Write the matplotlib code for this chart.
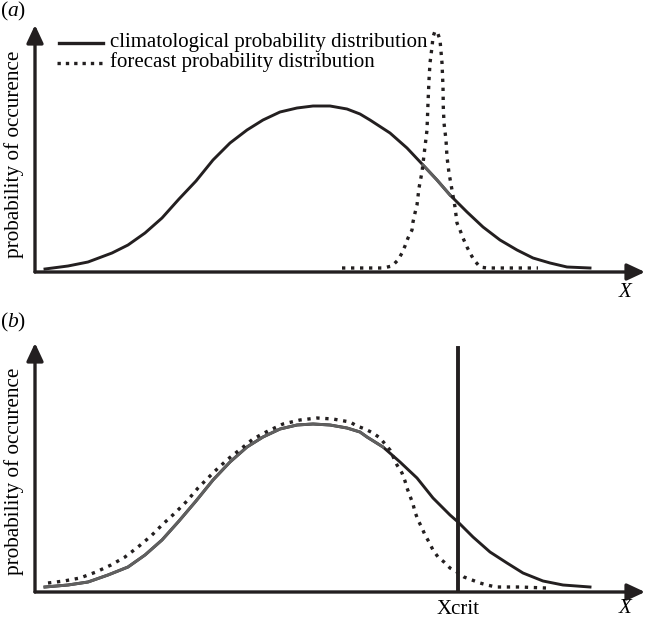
import matplotlib
matplotlib.use("Agg")
import matplotlib.pyplot as plt
import numpy as np

plt.rcParams['font.family'] = ['Liberation Serif', 'DejaVu Serif']
plt.rcParams['mathtext.fontset'] = 'custom'
plt.rcParams['mathtext.rm'] = 'Liberation Serif'
plt.rcParams['mathtext.it'] = 'Liberation Serif:italic'

# ---- data (x along X axis, y = probability, arbitrary units) ----
clim_a_x = [10, 33, 53, 77, 93, 110, 127, 144, 161, 178, 195, 212, 228, 245, 262, 278, 295,
            312, 325, 335, 355, 372, 388, 402, 415, 432, 448, 465, 482, 498, 515, 532, 555]
clim_a_y = [3, 6, 10, 19, 27, 39, 54, 73, 91, 112, 129, 142, 152, 160, 164, 166, 166,
            163, 158, 152, 139, 124, 107, 92, 77, 60, 45, 32, 22, 14, 9, 5, 4]

fc_a_x = [307, 348, 357, 363, 367, 370, 373, 377, 378, 380, 382, 384, 387, 389, 392, 393,
          394, 395, 397, 398, 400, 403, 405, 407, 408, 408.3, 409, 411, 412, 414, 417, 420,
          422, 425, 428, 432, 435, 439, 445, 452, 503]
fc_a_y = [4, 4, 6, 12, 19, 26, 34, 42, 50, 59, 67, 84, 100, 117, 142, 169,
          192, 209, 225, 235, 241, 238, 232, 209, 185, 165, 149, 132, 115, 99, 82, 65,
          49, 42, 34, 25, 19, 12, 5, 4, 4]

clim_b_x = [10, 33, 53, 73, 93, 110, 127, 144, 161, 178, 195, 212, 228, 245, 262, 278, 295,
            312, 325, 332, 348, 365, 382, 398, 415, 423, 438, 455, 472, 488, 508, 528, 555]
clim_b_y = [5, 7, 10, 17, 25, 37, 52, 71, 91, 112, 130, 145, 155, 163, 167, 168, 167,
            164, 160, 155, 145, 130, 114, 94, 77, 70, 55, 40, 29, 19, 11, 7, 5]

fc_b_x = [13, 29, 45, 61, 76, 90, 103, 116, 128, 140, 152, 163, 168, 180, 193, 207, 218,
          233, 248, 265, 282, 298, 315, 322, 330, 338, 345, 355, 362, 367, 370, 372, 375,
          378, 380, 383, 387, 390, 394, 398, 403, 409, 415, 422, 429, 437, 445, 452, 461,
          469, 485, 511]
fc_b_y = [9, 11, 14, 20, 27, 35, 45, 56, 68, 79, 91, 104, 109, 121, 133, 144, 153,
          161, 168, 172, 174, 173, 170, 166, 163, 159, 154, 142, 127, 119, 111, 104, 96,
          88, 80, 72, 64, 57, 50, 42, 35, 30, 24, 20, 15, 12, 9, 7, 5,
          5, 5, 4]

x_crit = 423
x_crit_top = 244

legend_labels = ["climatological probability distribution", "forecast probability distribution"]
ylabel = "probability of occurence"

DARK = '#231f20'
GRAY = '#606060'
DOT = (0, (1, 1.7))
LW_CURVE = 2.1
LW_DOT = 2.4
FS = 15

fig = plt.figure(figsize=(6.47, 6.18), dpi=100)
W, H = 647, 618

def make_axes(bottom_px, top_px, ylab_y, xlab_y):
    ax = fig.add_axes([35 / W, (H - bottom_px) / H, 610 / W, (bottom_px - top_px) / H])
    ax.set_xlim(0, 610)
    ax.set_ylim(0, bottom_px - top_px)
    for s in ax.spines.values():
        s.set_visible(False)
    ax.set_xticks([])
    ax.set_yticks([])
    ax.patch.set_alpha(0)
    ap = dict(arrowstyle='-|>,head_length=0.9,head_width=0.42', lw=2.4, color=DARK,
              mutation_scale=12, shrinkA=0, shrinkB=0)
    ax.annotate('', xy=(1, 0), xytext=(0, 0), xycoords='axes fraction',
                arrowprops=ap, annotation_clip=False)
    ax.annotate('', xy=(0, 1), xytext=(0, 0), xycoords='axes fraction',
                arrowprops=ap, annotation_clip=False)
    ax.text(-0.034, ylab_y, ylabel, transform=ax.transAxes, rotation=90,
            ha='center', va='center', fontsize=15.3)
    ax.text(0.967, xlab_y, 'X', transform=ax.transAxes, ha='center', va='center',
            fontsize=FS, fontstyle='italic')
    return ax

# ---- panel (a) ----
axa = make_axes(272, 25, 0.478, -0.085)
axa.plot(clim_a_x, clim_a_y, color=DARK, lw=LW_CURVE)
cx = np.array(clim_a_x); cy = np.array(clim_a_y)
m = (cx >= 388) & (cx <= 415)
axa.plot(cx[m], cy[m], color=GRAY, lw=LW_CURVE)
axa.plot(fc_a_x, fc_a_y, color=DARK, lw=LW_DOT, linestyle=DOT)

# legend (drawn by hand, in axes coordinates)
axa.plot([0.039, 0.111], [0.928, 0.928], transform=axa.transAxes, color=DARK, lw=2.4,
         clip_on=False)
axa.plot([0.036, 0.110], [0.848, 0.848], transform=axa.transAxes, color=DARK, lw=LW_DOT,
         linestyle=(0, (1, 1.5)), clip_on=False)
axa.text(0.123, 0.930, legend_labels[0], transform=axa.transAxes, ha='left', va='center',
         fontsize=FS)
axa.text(0.123, 0.850, legend_labels[1], transform=axa.transAxes, ha='left', va='center',
         fontsize=FS)
fig.text(0 / W, 1 - 11 / H, r'($a$)', ha='left', va='center', fontsize=15.5)

# ---- panel (b) ----
axb = make_axes(592, 343, 0.486, -0.066)
bx = np.array(clim_b_x); by = np.array(clim_b_y)
axb.plot(bx, by, color=DARK, lw=LW_CURVE)
mb = bx <= 355
axb.plot(bx[mb], by[mb], color=GRAY, lw=LW_CURVE)
axb.plot(fc_b_x, fc_b_y, color=DARK, lw=LW_DOT, linestyle=DOT)
axb.plot([x_crit, x_crit], [0, x_crit_top], color=DARK, lw=2.8)
axb.text(x_crit, -17, 'Xcrit', ha='center', va='center', fontsize=FS)
fig.text(0 / W, 1 - 322 / H, r'($b$)', ha='left', va='center', fontsize=15.5)

fig.savefig('out.png', dpi=100)
